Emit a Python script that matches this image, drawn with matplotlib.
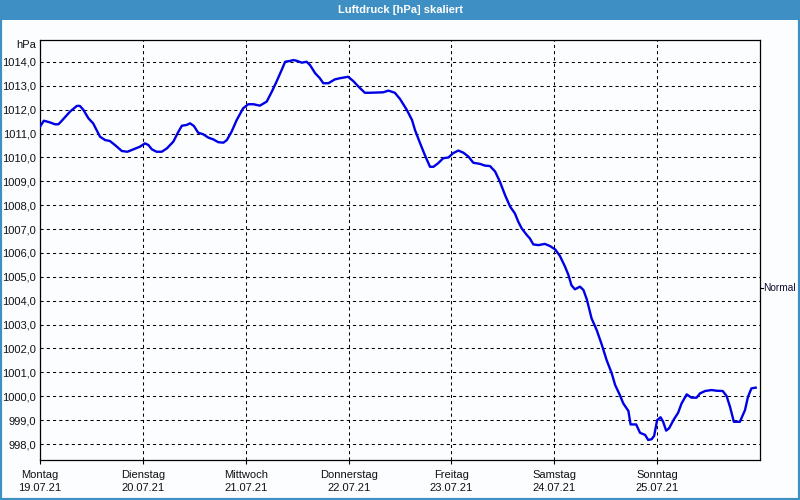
import matplotlib.pyplot as plt
from matplotlib.patches import Rectangle
from matplotlib.ticker import FuncFormatter
from matplotlib.transforms import blended_transform_factory

plt.rcParams['font.family'] = ['Liberation Sans', 'DejaVu Sans']

# Messwerte (Stunden seit Montag 00:00, Luftdruck in hPa)
stunden = [0.0, 0.9, 2.3, 3.5, 4.3, 5.1, 7.0, 8.6, 9.3, 10.1, 11.3, 12.4, 14.0, 15.2,
           16.3, 17.5, 19.1, 20.4, 21.8, 23.3, 24.5, 25.3, 26.1, 27.2, 28.4, 29.6,
           31.1, 32.3, 33.1, 34.2, 35.0, 35.9, 36.9, 38.1, 39.3, 40.4, 41.6, 42.8,
           43.6, 44.7, 45.9, 47.4, 48.6, 49.8, 51.3, 52.9, 54.1, 55.2, 56.4, 57.2,
           58.3, 59.1, 59.9, 61.1, 62.2, 63.0, 64.2, 65.3, 66.1, 67.3, 68.8, 70.0,
           71.9, 73.1, 74.3, 75.8, 77.0, 80.1, 81.3, 82.8, 84.0, 85.6, 86.8, 87.5,
           88.7, 89.8, 91.0, 91.8, 92.9, 94.1, 95.3, 96.4, 97.6, 98.8, 100.0, 101.1,
           102.7, 103.8, 105.0, 106.2, 107.3, 108.5, 109.7, 110.8, 111.6, 112.4,
           113.6, 114.3, 115.1, 116.3, 117.8, 119.0, 120.2, 121.3, 122.5, 123.3,
           124.0, 124.8, 126.0, 126.8, 127.6, 128.7, 129.9, 131.1, 132.2, 133.4,
           134.2, 135.3, 136.1, 137.3, 137.8, 139.1, 140.0, 141.2, 141.9, 142.7,
           143.3, 144.0, 144.8, 145.4, 146.1, 146.8, 147.9, 148.9, 149.7, 150.9,
           152.0, 153.2, 154.0, 155.2, 156.7, 157.9, 159.3, 160.2, 161.0, 161.9,
           163.3, 164.5, 165.2, 166.0, 167.0]
luftdruck = [1011.29, 1011.54, 1011.47, 1011.39, 1011.39, 1011.54, 1011.92, 1012.16,
             1012.16, 1012.0, 1011.64, 1011.43, 1010.87, 1010.73, 1010.69, 1010.52,
             1010.27, 1010.24, 1010.34, 1010.45, 1010.59, 1010.52, 1010.34, 1010.24,
             1010.24, 1010.38, 1010.66, 1011.08, 1011.33, 1011.36, 1011.43, 1011.32,
             1011.04, 1010.97, 1010.83, 1010.76, 1010.64, 1010.62, 1010.73, 1011.08,
             1011.57, 1012.06, 1012.23, 1012.23, 1012.17, 1012.34, 1012.76, 1013.18,
             1013.67, 1014.01, 1014.04, 1014.08, 1014.05, 1013.97, 1014.01, 1013.87,
             1013.53, 1013.32, 1013.11, 1013.11, 1013.27, 1013.32, 1013.38, 1013.20,
             1012.97, 1012.71, 1012.71, 1012.73, 1012.80, 1012.71, 1012.45, 1011.99,
             1011.57, 1011.15, 1010.59, 1010.10, 1009.61, 1009.61, 1009.76, 1009.97,
             1010.0, 1010.18, 1010.29, 1010.20, 1010.03, 1009.78, 1009.73, 1009.66,
             1009.64, 1009.41, 1008.99, 1008.43, 1007.94, 1007.66, 1007.31, 1007.03,
             1006.75, 1006.61, 1006.36, 1006.33, 1006.38, 1006.29, 1006.15, 1005.88,
             1005.43, 1005.08, 1004.65, 1004.48, 1004.59, 1004.45, 1004.05, 1003.26,
             1002.77, 1002.15, 1001.52, 1000.96, 1000.47, 1000.05, 999.70, 999.38,
             998.82, 998.82, 998.47, 998.38, 998.17, 998.20, 998.34, 999.0, 999.12,
             998.93, 998.56, 998.66, 999.03, 999.31, 999.70, 1000.08, 999.94, 999.94,
             1000.12, 1000.22, 1000.26, 1000.23, 1000.22, 1000.01, 999.56, 998.93,
             998.93, 999.42, 999.98, 1000.33, 1000.36]

tage = ['Montag', 'Dienstag', 'Mittwoch', 'Donnerstag', 'Freitag', 'Samstag', 'Sonntag']
daten = ['19.07.21', '20.07.21', '21.07.21', '22.07.21', '23.07.21', '24.07.21', '25.07.21']
y_ticks = list(range(998, 1015))
normal = 1004.55

blau_rahmen = '#3E8FC4'
schrift = 8

fig = plt.figure(figsize=(8, 5), dpi=100, facecolor='#FBFDFE')

# Titelleiste und Rahmen
fig.patches.append(Rectangle((0, 1 - 20 / 500), 1, 20 / 500, transform=fig.transFigure,
                             facecolor=blau_rahmen, edgecolor='none', zorder=0))
fig.patches.append(Rectangle((0, 0), 1, 1, transform=fig.transFigure, fill=False,
                             edgecolor=blau_rahmen, linewidth=3, zorder=5))
fig.text(0.5, 1 - 10 / 500, 'Luftdruck [hPa] skaliert', color='white', fontweight='bold',
         fontsize=8, ha='center', va='center')

ax = fig.add_axes([40 / 800, 40 / 500, 720 / 800, 420 / 500])
ax.set_facecolor('#FBFDFE')
ax.plot(stunden, luftdruck, color='#0000E6', linewidth=1.7, zorder=3)

ax.set_xlim(0, 168)
ax.set_ylim(997.33, 1014.92)

ax.set_xticks([24 * i for i in range(len(tage))])
ax.set_xticklabels([f'{t}\n{d}' for t, d in zip(tage, daten)], linespacing=1.45)
ax.set_yticks(y_ticks)
ax.yaxis.set_major_formatter(FuncFormatter(lambda v, p: f'{v:.1f}'.replace('.', ',')))

ax.tick_params(axis='x', direction='out', length=3, width=0.8, pad=4, labelsize=schrift,
               colors='black', labelcolor='#111111')
ax.tick_params(axis='y', length=0, pad=3, labelsize=schrift, labelcolor='#111111')

ax.grid(True, color='black', linestyle=(0, (3, 3)), linewidth=0.75)
for s in ax.spines.values():
    s.set_linewidth(0.9)
    s.set_color('black')

ax.text(-0.006, 0.988, 'hPa', transform=ax.transAxes, ha='right', va='center',
        fontsize=schrift, color='#111111')

# Normalwert rechts
trans = blended_transform_factory(ax.transAxes, ax.transData)
ax.plot([1.001, 1.004], [normal, normal], transform=trans, color='black', lw=0.8,
        clip_on=False)
ax.text(1.005, normal, 'Normal', transform=trans, ha='left', va='center',
        fontsize=7.3, color='#111133')

fig.savefig('out.png', dpi=100, facecolor=fig.get_facecolor())
